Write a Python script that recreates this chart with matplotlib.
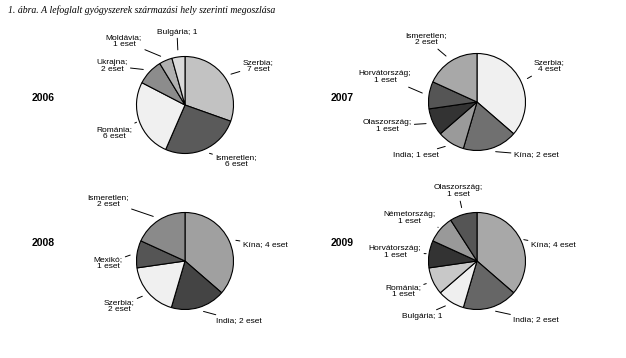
import numpy as np
import matplotlib
matplotlib.use('Agg')
import matplotlib.pyplot as plt

W, H = 626, 358

title = '1. ábra. A lefoglalt gyógyszerek származási hely szerinti megoszlása'
years = ['2006', '2007', '2008', '2009']

# 2006
labels_2006 = ['Szerbia;\n7 eset', 'Ismeretlen;\n6 eset', 'Románia;\n6 eset',
               'Ukrajna;\n2 eset', 'Moldávia;\n1 eset', 'Bulgária; 1']
values_2006 = [7, 6, 6, 2, 1, 1]
colors_2006 = ['#c2c2c2', '#5a5a5a', '#f0f0f0', '#8c8c8c', '#b0b0b0', '#dadada']

# 2007
labels_2007 = ['Szerbia;\n4 eset', 'Kína; 2 eset', 'India; 1 eset',
               'Olaszország;\n1 eset', 'Horvátország;\n1 eset', 'Ismeretlen;\n2 eset']
values_2007 = [4, 2, 1, 1, 1, 2]
colors_2007 = ['#f0f0f0', '#707070', '#9a9a9a', '#333333', '#555555', '#a8a8a8']

# 2008
labels_2008 = ['Kína; 4 eset', 'India; 2 eset', 'Szerbia;\n2 eset',
               'Mexikó;\n1 eset', 'Ismeretlen;\n2 eset']
values_2008 = [4, 2, 2, 1, 2]
colors_2008 = ['#a0a0a0', '#444444', '#f0f0f0', '#555555', '#8a8a8a']

# 2009
labels_2009 = ['Kína; 4 eset', 'India; 2 eset', 'Bulgária; 1', 'Románia;\n1 eset',
               'Horvátország;\n1 eset', 'Németország;\n1 eset', 'Olaszország;\n1 eset']
values_2009 = [4, 2, 1, 1, 1, 1, 1]
colors_2009 = ['#a8a8a8', '#666666', '#efefef', '#c8c8c8', '#333333', '#999999', '#555555']

# layout (pixels from top-left)
centers = [(185, 105), (477, 102), (185, 261), (477, 261)]
radius = 48.5
year_pos = [(43, 98), (342, 98), (43, 243), (342, 243)]
label_pos = [
    [(258, 66), (236, 161), (114, 133), (112, 66), (124, 41), (177, 32)],
    [(549, 66), (536, 155), (416, 155), (387, 126), (385, 77), (426, 39)],
    [(265, 245), (239, 321), (119, 306), (108, 263), (108, 201)],
    [(553, 245), (536, 320), (422, 316), (403, 291), (395, 252), (409, 218), (458, 191)],
]

data = [
    (labels_2006, values_2006, colors_2006),
    (labels_2007, values_2007, colors_2007),
    (labels_2008, values_2008, colors_2008),
    (labels_2009, values_2009, colors_2009),
]

fig = plt.figure(figsize=(W / 100, H / 100), dpi=100)
ax = fig.add_axes([0, 0, 1, 1])

for (labels, values, colors), (cx, cy), lpos, yr, ypos in zip(
        data, centers, label_pos, years, year_pos):
    c = (cx, H - cy)
    wedges, _ = ax.pie(values, colors=colors, startangle=90, counterclock=False,
                       center=c, radius=radius,
                       wedgeprops=dict(edgecolor='black', linewidth=0.8))
    for w, lab, (tx, ty) in zip(wedges, labels, lpos):
        mid = np.deg2rad((w.theta1 + w.theta2) / 2)
        px = c[0] + radius * 1.06 * np.cos(mid)
        py = c[1] + radius * 1.06 * np.sin(mid)
        ax.annotate(lab, xy=(px, py), xytext=(tx, H - ty),
                    ha='center', va='center', multialignment='center',
                    fontsize=6, family='Liberation Sans', linespacing=1.15,
                    arrowprops=dict(arrowstyle='-', color='black', lw=0.7,
                                    shrinkA=0, shrinkB=3))
    ax.text(ypos[0], H - ypos[1], yr, ha='center', va='center',
            fontsize=7.5, fontweight='bold', family='Liberation Sans')

ax.text(8, H - 10, title, ha='left', va='center', fontsize=7,
        style='italic', family='Liberation Serif')

ax.set_xlim(0, W)
ax.set_ylim(0, H)
ax.set_aspect('auto')
ax.axis('off')

fig.savefig('out.png', dpi=100, facecolor='white')
